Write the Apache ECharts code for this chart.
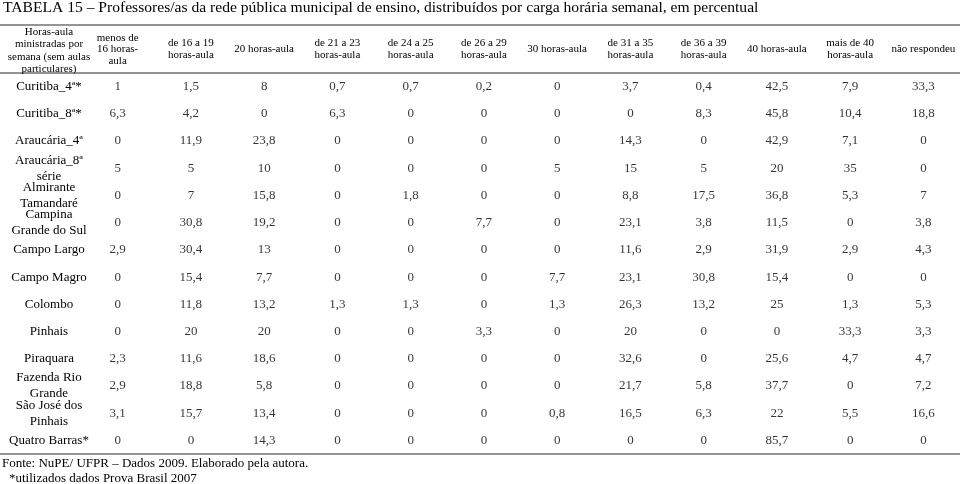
<!DOCTYPE html>
<html>
<head>
<meta charset="utf-8">
<script src="https://cdn.jsdelivr.net/npm/echarts@6/dist/echarts.min.js"></script>
<style>html,body{margin:0;padding:0;background:#fff}#c{width:960px;height:484px}</style>
</head>
<body>
<div id="c"></div>
<script>
var titleText = 'TABELA 15 – Professores/as da rede pública municipal de ensino, distribuídos por carga horária semanal, em percentual';
var cornerHeader = 'Horas-aula\nministradas por\nsemana (sem aulas\nparticulares)';
var columns = ['menos de\n16 horas-\naula', 'de 16 a 19\nhoras-aula', '20 horas-aula', 'de 21 a 23\nhoras-aula',
  'de 24 a 25\nhoras-aula', 'de 26 a 29\nhoras-aula', '30 horas-aula', 'de 31 a 35\nhoras-aula',
  'de 36 a 39\nhoras-aula', '40 horas-aula', 'mais de 40\nhoras-aula', 'não respondeu'];
var rowLabels = ['Curitiba_4ª*', 'Curitiba_8ª*', 'Araucária_4ª', 'Araucária_8ª\nsérie', 'Almirante\nTamandaré',
  'Campina\nGrande do Sul', 'Campo Largo', 'Campo Magro', 'Colombo', 'Pinhais', 'Piraquara',
  'Fazenda Rio\nGrande', 'São José dos\nPinhais', 'Quatro Barras*'];

var curitiba4 = [1, 1.5, 8, 0.7, 0.7, 0.2, 0, 3.7, 0.4, 42.5, 7.9, 33.3];
var curitiba8 = [6.3, 4.2, 0, 6.3, 0, 0, 0, 0, 8.3, 45.8, 10.4, 18.8];
var araucaria4 = [0, 11.9, 23.8, 0, 0, 0, 0, 14.3, 0, 42.9, 7.1, 0];
var araucaria8 = [5, 5, 10, 0, 0, 0, 5, 15, 5, 20, 35, 0];
var almirante = [0, 7, 15.8, 0, 1.8, 0, 0, 8.8, 17.5, 36.8, 5.3, 7];
var campina = [0, 30.8, 19.2, 0, 0, 7.7, 0, 23.1, 3.8, 11.5, 0, 3.8];
var campoLargo = [2.9, 30.4, 13, 0, 0, 0, 0, 11.6, 2.9, 31.9, 2.9, 4.3];
var campoMagro = [0, 15.4, 7.7, 0, 0, 0, 7.7, 23.1, 30.8, 15.4, 0, 0];
var colombo = [0, 11.8, 13.2, 1.3, 1.3, 0, 1.3, 26.3, 13.2, 25, 1.3, 5.3];
var pinhais = [0, 20, 20, 0, 0, 3.3, 0, 20, 0, 0, 33.3, 3.3];
var piraquara = [2.3, 11.6, 18.6, 0, 0, 0, 0, 32.6, 0, 25.6, 4.7, 4.7];
var fazenda = [2.9, 18.8, 5.8, 0, 0, 0, 0, 21.7, 5.8, 37.7, 0, 7.2];
var saoJose = [3.1, 15.7, 13.4, 0, 0, 0, 0.8, 16.5, 6.3, 22, 5.5, 16.6];
var quatroBarras = [0, 0, 14.3, 0, 0, 0, 0, 0, 0, 85.7, 0, 0];

var footSource = 'Fonte: NuPE/ UFPR – Dados 2009. Elaborado pela autora.';
var footNote = '*utilizados dados Prova Brasil 2007';

var rows = [curitiba4, curitiba8, araucaria4, araucaria8, almirante, campina, campoLargo,
  campoMagro, colombo, pinhais, piraquara, fazenda, saoJose, quatroBarras];

var cells = [];
rows.forEach(function (r, ri) {
  r.forEach(function (v, ci) { cells.push([ci, ri, v]); });
});

var serif = '"Liberation Serif", "DejaVu Serif", serif';
var chart = echarts.init(document.getElementById('c'), null, { renderer: 'canvas' });
chart.setOption({
  backgroundColor: '#ffffff',
  animation: false,
  title: [
    { text: titleText, left: 3, top: 0, padding: 0,
      textStyle: { fontFamily: serif, fontSize: 15.6, fontWeight: 'normal', color: '#000' } },
    { text: cornerHeader, left: 49, top: 26, padding: 0, textAlign: 'center',
      textStyle: { fontFamily: serif, fontSize: 11, fontWeight: 'normal', color: '#000', lineHeight: 12.3, align: 'center' } },
    { text: footSource, left: 2, top: 457, padding: 0,
      textStyle: { fontFamily: serif, fontSize: 13, fontWeight: 'normal', color: '#000' } },
    { text: footNote, left: 9, top: 472, padding: 0,
      textStyle: { fontFamily: serif, fontSize: 13, fontWeight: 'normal', color: '#000' } }
  ],
  grid: { left: 81, right: 0, top: 73, bottom: 30, containLabel: false },
  xAxis: {
    type: 'category', position: 'top', data: columns,
    axisLine: { show: false }, axisTick: { show: false }, splitLine: { show: false },
    axisLabel: { interval: 0, fontFamily: serif, fontSize: 11, lineHeight: 11.8, color: '#000',
      verticalAlign: 'middle', align: 'center', margin: 23.5 }
  },
  yAxis: {
    type: 'category', inverse: true, data: rowLabels,
    axisLine: { show: false }, axisTick: { show: false }, splitLine: { show: false },
    axisLabel: { interval: 0, fontFamily: serif, fontSize: 13, lineHeight: 16, color: '#000',
      align: 'center', margin: 32 }
  },
  series: [{
    type: 'scatter', data: cells, symbolSize: 1,
    itemStyle: { color: 'rgba(255,255,255,0)' },
    label: { show: true, position: 'inside', fontFamily: serif, fontSize: 13, color: '#000',
      formatter: function (p) { return String(p.value[2]).replace('.', ','); } },
    silent: true
  }],
  graphic: [
    { type: 'line', shape: { x1: 0, y1: 25, x2: 960, y2: 25 }, style: { stroke: '#707070', lineWidth: 1.5 } },
    { type: 'line', shape: { x1: 0, y1: 73, x2: 960, y2: 73 }, style: { stroke: '#707070', lineWidth: 1.5 } },
    { type: 'line', shape: { x1: 0, y1: 454, x2: 960, y2: 454 }, style: { stroke: '#707070', lineWidth: 1.5 } }
  ]
});
</script>
</body>
</html>
